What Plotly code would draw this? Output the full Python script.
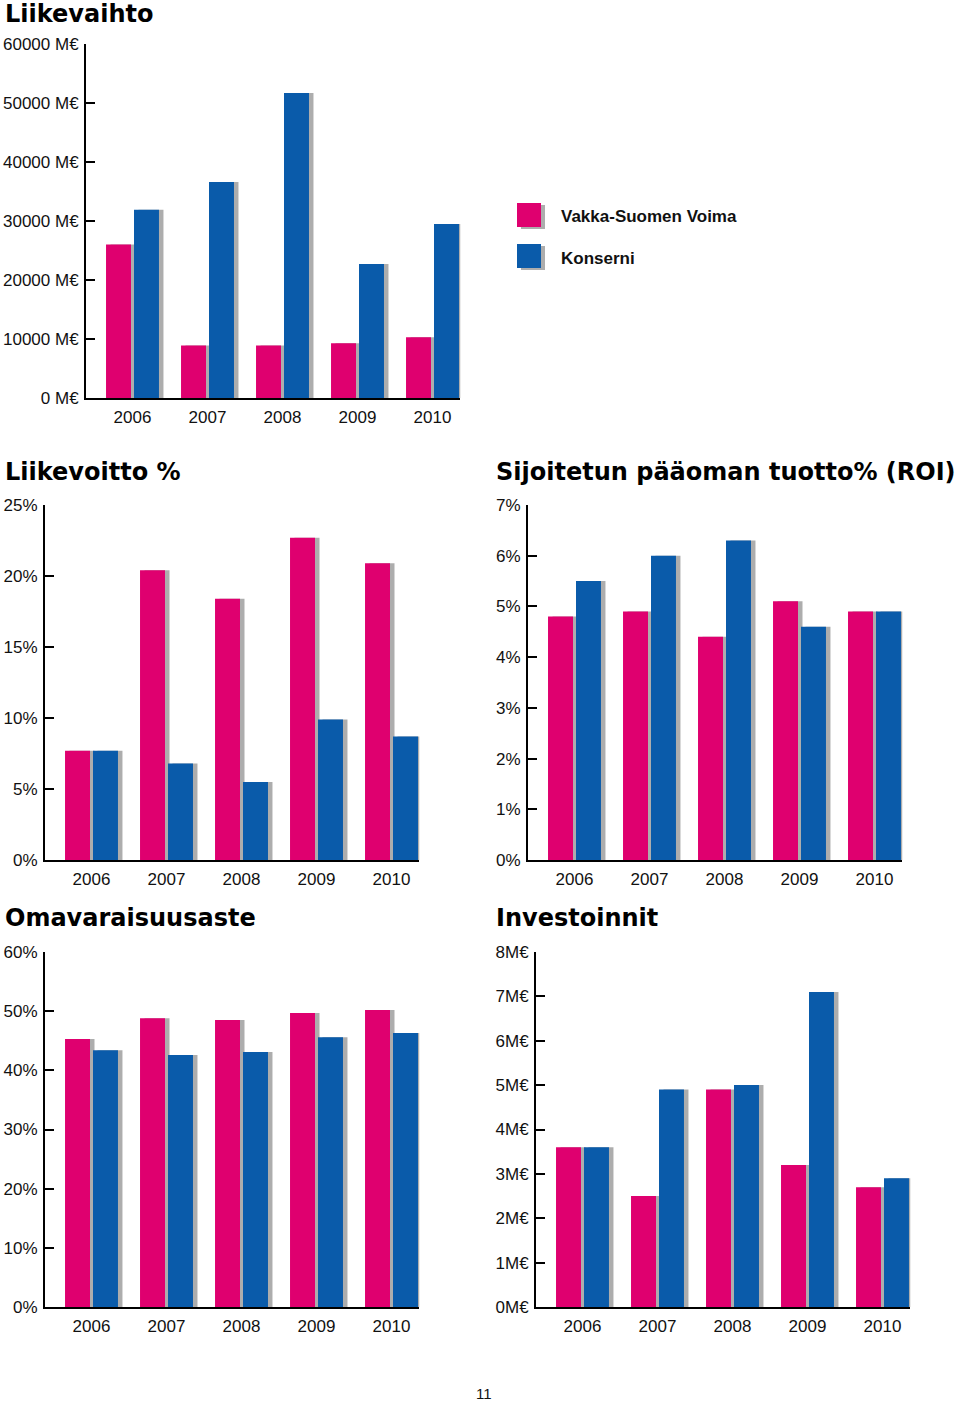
import plotly.graph_objects as go

W, H = 960, 1404

years = ["2006", "2007", "2008", "2009", "2010"]
series_names = ["Vakka-Suomen Voima", "Konserni"]

# Liikevaihto (M€)
lv_vsv = [26000, 8900, 8900, 9300, 10300]
lv_kons = [31900, 36600, 51700, 22700, 29500]
lv_ticks = [0, 10000, 20000, 30000, 40000, 50000, 60000]
lv_labels = ["0 M€", "10000 M€", "20000 M€", "30000 M€", "40000 M€", "50000 M€", "60000 M€"]

# Liikevoitto %
lvp_vsv = [7.7, 20.4, 18.4, 22.7, 20.9]
lvp_kons = [7.7, 6.8, 5.5, 9.9, 8.7]
lvp_ticks = [0, 5, 10, 15, 20, 25]
lvp_labels = ["0%", "5%", "10%", "15%", "20%", "25%"]

# ROI %
roi_vsv = [4.8, 4.9, 4.4, 5.1, 4.9]
roi_kons = [5.5, 6.0, 6.3, 4.6, 4.9]
roi_ticks = [0, 1, 2, 3, 4, 5, 6, 7]
roi_labels = ["0%", "1%", "2%", "3%", "4%", "5%", "6%", "7%"]

# Omavaraisuusaste %
oma_vsv = [45.3, 48.8, 48.5, 49.7, 50.2]
oma_kons = [43.4, 42.6, 43.1, 45.6, 46.3]
oma_ticks = [0, 10, 20, 30, 40, 50, 60]
oma_labels = ["0%", "10%", "20%", "30%", "40%", "50%", "60%"]

# Investoinnit M€
inv_vsv = [3.6, 2.5, 4.9, 3.2, 2.7]
inv_kons = [3.6, 4.9, 5.0, 7.1, 2.9]
inv_ticks = [0, 1, 2, 3, 4, 5, 6, 7, 8]
inv_labels = ["0M€", "1M€", "2M€", "3M€", "4M€", "5M€", "6M€", "7M€", "8M€"]

PINK = "#DF006F"
BLUE = "#0A5BAA"
SHADOW = "rgba(0,0,0,0.32)"
TICKFONT = dict(family="Liberation Sans, Arial, sans-serif", size=17, color="#111")
TITLEFONT = dict(family="DejaVu Sans, sans-serif", size=24, color="#000")

# panels: (title, vsv, kons, ticks, labels, left px, bottom px, top px, title x, title y)
panels = [
    ("Liikevaihto", lv_vsv, lv_kons, lv_ticks, lv_labels, 86, 398, 44, 3, 14),
    ("Liikevoitto %", lvp_vsv, lvp_kons, lvp_ticks, lvp_labels, 45, 860, 505, 3, 472),
    ("Sijoitetun pääoman tuotto% (ROI)", roi_vsv, roi_kons, roi_ticks, roi_labels, 528, 860, 505, 494, 472),
    ("Omavaraisuusaste", oma_vsv, oma_kons, oma_ticks, oma_labels, 45, 1307, 952, 3, 918),
    ("Investoinnit", inv_vsv, inv_kons, inv_ticks, inv_labels, 536, 1307, 952, 494, 918),
]

XR = [-0.62, 4.37]
PX_PER_UNIT = 75
BW = 0.333

fig = go.Figure()
annotations = []
shapes = []

for i, (title, vsv, kons, ticks, labels, left, bottom, top, tx, ty) in enumerate(panels):
    n = "" if i == 0 else str(i + 1)
    xa, ya = "x" + n, "y" + n
    for vals, off in ((vsv, -0.353), (kons, 0.02)):
        fig.add_trace(go.Bar(x=years, y=vals, xaxis=xa, yaxis=ya, width=BW, offset=off + 0.06,
                             marker=dict(color=SHADOW, line=dict(width=0)), showlegend=False,
                             hoverinfo="skip"))
    fig.add_trace(go.Bar(x=years, y=vsv, name=series_names[0], xaxis=xa, yaxis=ya, width=BW,
                         offset=-0.353, marker=dict(color=PINK, line=dict(width=0)), showlegend=False))
    fig.add_trace(go.Bar(x=years, y=kons, name=series_names[1], xaxis=xa, yaxis=ya, width=BW,
                         offset=0.02, marker=dict(color=BLUE, line=dict(width=0)), showlegend=False))
    right = left + (XR[1] - XR[0]) * PX_PER_UNIT
    fig.update_layout(**{
        "xaxis" + n: dict(domain=[left / W, right / W], anchor=ya, type="category",
                          categoryorder="array", categoryarray=years, range=XR,
                          showline=True, linecolor="black", linewidth=2, ticks="",
                          ticklabelstandoff=3, automargin=False,
                          showgrid=False, zeroline=False, tickfont=TICKFONT, fixedrange=True),
        "yaxis" + n: dict(domain=[1 - bottom / H, 1 - top / H], anchor=xa,
                          range=[ticks[0], ticks[-1]], tickvals=ticks, ticktext=labels,
                          showline=True, linecolor="black", linewidth=2, ticks="inside",
                          ticklen=9, tickwidth=2, tickcolor="black", showgrid=False,
                          ticklabelstandoff=2, automargin=False,
                          zeroline=False, tickfont=TICKFONT, fixedrange=True),
    })
    annotations.append(dict(text="<b>%s</b>" % title, x=tx / W, y=1 - ty / H, xref="paper",
                            yref="paper", xanchor="left", yanchor="middle", showarrow=False,
                            font=TITLEFONT))

# legend (drawn as boxes + labels)
for name, col, yc in ((series_names[0], PINK, 215), (series_names[1], BLUE, 256)):
    shapes.append(dict(type="rect", xref="paper", yref="paper", x0=521 / W, x1=545 / W,
                       y0=1 - (yc + 14) / H, y1=1 - (yc - 10) / H, fillcolor=SHADOW, line=dict(width=0)))
    shapes.append(dict(type="rect", xref="paper", yref="paper", x0=517 / W, x1=541 / W,
                       y0=1 - (yc + 12) / H, y1=1 - (yc - 12) / H, fillcolor=col, line=dict(width=0)))
    annotations.append(dict(text="<b>%s</b>" % name, x=559 / W, y=1 - (yc + 2) / H, xref="paper",
                            yref="paper", xanchor="left", yanchor="middle", showarrow=False,
                            font=dict(family="Liberation Sans, Arial, sans-serif", size=17, color="#111")))

annotations.append(dict(text="11", x=484 / W, y=1 - 1393 / H, xref="paper", yref="paper",
                        xanchor="center", yanchor="middle", showarrow=False,
                        font=dict(family="Liberation Sans Narrow, Liberation Sans, sans-serif", size=15, color="#111")))

fig.update_layout(width=W, height=H, margin=dict(l=0, r=0, t=0, b=0, pad=0, autoexpand=False),
                  barmode="overlay", template="none",
                  paper_bgcolor="white", plot_bgcolor="white", annotations=annotations,
                  shapes=shapes, showlegend=False)

fig.write_html("out.html", config={"displayModeBar": False},
               post_script="document.body.style.margin='0px';")
